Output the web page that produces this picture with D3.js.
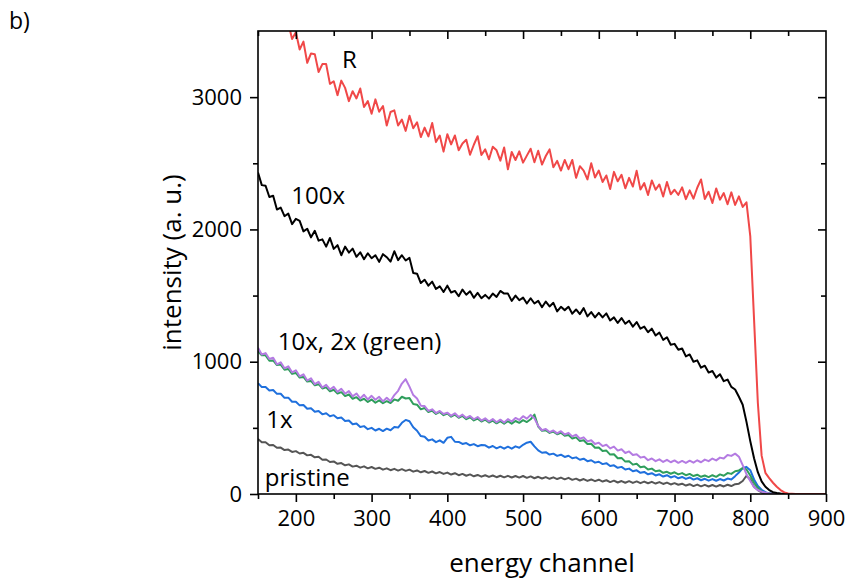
<!DOCTYPE html>
<html>
<head>
<meta charset="utf-8">
<script src="https://cdn.jsdelivr.net/npm/d3@7"></script>
<style>
  body { margin: 0; background: #fff; }
  svg { display: block; }
  text { font-family: "Open Sans", "Liberation Sans", Arial, sans-serif; fill: #000; }
</style>
</head>
<body>
<svg id="chart" width="851" height="583"></svg>
<script>
// Energy channels (shared x grid for every spectrum)
const channels = [
  150,155,160,165,170,175,180,185,190,195,
  200,205,210,215,220,225,230,235,240,245,
  250,255,260,265,270,275,280,285,290,295,
  300,305,310,315,320,325,330,335,340,345,
  350,355,360,365,370,375,380,385,390,395,
  400,405,410,415,420,425,430,435,440,445,
  450,455,460,465,470,475,480,485,490,495,
  500,505,510,515,520,525,530,535,540,545,
  550,555,560,565,570,575,580,585,590,595,
  600,605,610,615,620,625,630,635,640,645,
  650,655,660,665,670,675,680,685,690,695,
  700,705,710,715,720,725,730,735,740,745,
  750,755,760,765,770,775,780,785,790,795,
  800,805,810,815,820,825,830,835,840,845,
  850,860,870,880,890,900
];

// Reference spectrum "R"
const seriesR = [
  null,null,null,null,null,null,null,null,3560,3440,
  3490,3360,3420,3260,3330,3325,3190,3250,3250,3100,
  3120,3015,3125,3070,2970,3045,2990,3065,2925,2970,
  2875,2983,2890,2933,2785,2888,2900,2785,2830,2745,
  2860,2765,2810,2698,2770,2703,2805,2660,2710,2588,
  2720,2643,2710,2598,2650,2678,2565,2640,2705,2563,
  2605,2530,2625,2598,2520,2620,2455,2585,2525,2590,
  2505,2558,2610,2508,2595,2490,2555,2605,2470,2518,
  2445,2525,2455,2525,2390,2478,2445,2378,2500,2393,
  2445,2359,2408,2306,2435,2364,2413,2311,2390,2324,
  2443,2301,2350,2260,2370,2300,2340,2249,2358,2266,
  2300,2261,2318,2229,2295,2233,2315,2378,2230,2285,
  2200,2310,2225,2275,2190,2280,2185,2250,2170,2205,
  1950,1320,690,290,160,120,85,55,30,12,
  4,0,0,0,0,0
];

// 100x
const series100x = [
  2430,2335,2330,2245,2255,2150,2165,2100,2120,2040,
  2080,2065,1985,2005,1940,1990,1915,1925,1870,1935,
  1853,1881,1805,1870,1825,1855,1793,1827,1775,1820,
  1782,1805,1755,1813,1790,1757,1835,1768,1805,1765,
  1785,1670,1665,1595,1620,1575,1605,1550,1570,1527,
  1575,1523,1535,1495,1545,1506,1532,1483,1520,1480,
  1505,1477,1515,1490,1535,1515,1515,1460,1500,1465,
  1485,1440,1480,1440,1460,1412,1455,1418,1445,1380,
  1415,1390,1415,1363,1395,1360,1405,1343,1375,1335,
  1370,1335,1365,1312,1335,1293,1330,1287,1310,1265,
  1300,1250,1265,1223,1250,1198,1220,1165,1185,1128,
  1135,1090,1100,1040,1055,1000,1010,955,970,918,
  930,880,905,853,865,810,790,735,675,545,
  400,270,165,95,55,30,14,7,3,1,
  0,0,0,0,0,0
];

// 10x
const series10x = [
  1105,1055,1065,1020,1030,980,995,950,965,920,
  935,890,905,858,875,830,848,805,825,790,
  810,772,795,758,778,738,760,722,750,715,
  742,712,735,700,728,702,748,780,835,868,
  812,748,722,668,665,628,640,612,628,605,
  615,592,610,582,600,575,590,565,582,555,
  572,548,566,542,562,540,566,548,575,560,
  588,570,598,572,515,482,492,468,480,458,
  475,450,462,435,448,418,428,398,406,378,
  388,362,372,345,358,328,338,310,322,295,
  300,275,282,256,268,248,262,242,258,240,
  254,236,250,235,252,237,255,240,260,248,
  268,254,275,268,295,288,305,282,218,150,
  98,52,30,18,9,4,2,1,0,0,
  0,0,0,0,0,0
];

// 2x
const series2x = [
  1080,1048,1048,1008,1010,975,978,940,945,908,
  915,880,885,850,855,822,830,798,806,776,
  788,760,770,740,752,720,732,706,720,696,
  714,690,708,686,702,688,715,705,735,722,
  725,680,675,640,650,620,630,605,620,596,
  608,585,600,576,590,566,580,556,570,548,
  562,540,555,534,550,532,550,532,552,538,
  558,544,565,600,510,478,482,462,472,452,
  463,440,446,420,428,400,406,378,380,350,
  352,325,328,298,300,270,273,245,248,222,
  228,203,208,185,192,172,178,160,168,153,
  164,148,158,142,152,136,146,130,140,128,
  142,130,148,138,158,152,172,178,196,185,
  140,85,45,20,8,3,1,0,0,0,
  0,0,0,0,0,0
];

// 1x
const series1x = [
  838,808,808,782,786,757,758,727,728,697,
  698,670,673,644,648,622,628,602,610,588,
  596,572,578,552,556,527,533,507,513,490,
  500,480,493,476,494,482,506,502,538,560,
  550,505,478,438,433,405,413,392,406,387,
  425,432,395,394,378,385,368,377,361,370,
  368,350,363,345,358,343,358,343,360,350,
  372,388,395,360,330,312,316,298,305,288,
  297,280,289,270,277,259,267,248,255,237,
  244,226,233,212,217,198,205,185,192,172,
  179,160,167,149,157,140,149,132,142,125,
  135,119,129,114,125,109,119,104,115,101,
  113,100,113,102,117,110,135,162,196,205,
  180,110,60,32,14,5,2,0,0,0,
  0,0,0,0,0,0
];

// pristine
const seriesPristine = [
  416,392,391,369,371,349,351,332,336,318,
  324,306,311,292,296,277,281,259,261,242,
  246,228,234,217,224,207,214,199,209,194,
  204,190,199,184,194,180,190,177,188,175,
  184,169,178,164,174,160,170,156,166,152,
  162,147,157,142,152,138,148,134,144,131,
  142,129,140,127,138,126,137,125,136,124,
  136,122,133,119,130,117,128,115,126,113,
  124,111,122,107,116,102,113,99,110,97,
  108,94,104,90,101,87,98,85,97,84,
  95,82,94,81,92,79,90,76,86,72,
  82,70,78,64,74,60,71,58,69,57,
  68,56,68,57,70,60,74,78,98,138,
  110,55,30,12,4,1,0,0,0,0,
  0,0,0,0,0,0
];

// Axis ticks
const xMajorTicks = [200,300,400,500,600,700,800,900];
const xMinorTicks = [150,250,350,450,550,650,750,850];
const yMajorTicks = [0,1000,2000,3000];
const yMinorTicks = [500,1500,2500];

// Curve labels
const curveLabels = [
  { text: "R", ch: 261, value: 3220 },
  { text: "100x", ch: 194, value: 2195 },
  { text: "10x, 2x (green)", ch: 176, value: 1085 },
  { text: "1x", ch: 161, value: 500 },
  { text: "pristine", ch: 159, value: 60 }
];

const svg = d3.select("#chart");
const margin = { left: 258, right: 25, top: 31, bottom: 89 };
const W = 851, H = 583;
const x = d3.scaleLinear().domain([150, 900]).range([margin.left, W - margin.right]);
const y = d3.scaleLinear().domain([0, 3500]).range([H - margin.bottom, margin.top]);

svg.append("defs").append("clipPath").attr("id", "plotClip")
  .append("rect")
  .attr("x", x(150)).attr("y", y(3500))
  .attr("width", x(900) - x(150)).attr("height", y(0) - y(3500));

const series = [
  { values: seriesPristine, color: "#555555", width: 2.0 },
  { values: series1x, color: "#1f70dd", width: 2.0 },
  { values: series2x, color: "#2f9e5c", width: 2.0 },
  { values: series10x, color: "#b47be2", width: 2.0 },
  { values: series100x, color: "#000000", width: 2.0 },
  { values: seriesR, color: "#f04848", width: 2.0 }
];

const line = d3.line()
  .defined(d => d[1] !== null)
  .x(d => x(d[0]))
  .y(d => y(d[1]));

const plot = svg.append("g").attr("clip-path", "url(#plotClip)");
series.forEach(s => {
  plot.append("path")
    .datum(channels.map((c, i) => [c, s.values[i]]))
    .attr("fill", "none")
    .attr("stroke", s.color)
    .attr("stroke-width", s.width)
    .attr("stroke-linejoin", "round")
    .attr("d", line);
});

// Axes: outward ticks bottom/left, inward mirrored ticks top/right
const tickFont = 22;
function styleAxis(g) {
  g.select(".domain").remove();
  g.selectAll(".tick line").attr("stroke", "#000").attr("stroke-width", 1.6);
  g.selectAll("text").attr("font-size", tickFont).attr("fill", "#000")
    .style("font-family", '"Open Sans", "Liberation Sans", Arial, sans-serif');
}

svg.append("g").attr("transform", `translate(0,${y(0)})`)
  .call(d3.axisBottom(x).tickValues(xMinorTicks).tickSize(5).tickFormat(""))
  .call(styleAxis);
svg.append("g").attr("transform", `translate(0,${y(0)})`)
  .call(d3.axisBottom(x).tickValues(xMajorTicks).tickSize(8).tickPadding(8).tickFormat(d3.format("d")))
  .call(styleAxis);

svg.append("g").attr("transform", `translate(${x(150)},0)`)
  .call(d3.axisLeft(y).tickValues(yMinorTicks).tickSize(5).tickFormat(""))
  .call(styleAxis);
svg.append("g").attr("transform", `translate(${x(150)},0)`)
  .call(d3.axisLeft(y).tickValues(yMajorTicks).tickSize(8).tickPadding(8).tickFormat(d3.format("d")))
  .call(styleAxis);

svg.append("g").attr("transform", `translate(0,${y(3500)})`)
  .call(d3.axisTop(x).tickValues(xMinorTicks).tickSize(-5).tickFormat(""))
  .call(styleAxis);
svg.append("g").attr("transform", `translate(0,${y(3500)})`)
  .call(d3.axisTop(x).tickValues(xMajorTicks.filter(v => v < 900)).tickSize(-8).tickFormat(""))
  .call(styleAxis);

svg.append("g").attr("transform", `translate(${x(900)},0)`)
  .call(d3.axisRight(y).tickValues(yMinorTicks).tickSize(-5).tickFormat(""))
  .call(styleAxis);
svg.append("g").attr("transform", `translate(${x(900)},0)`)
  .call(d3.axisRight(y).tickValues(yMajorTicks.filter(v => v > 0)).tickSize(-8).tickFormat(""))
  .call(styleAxis);

// Plot frame
svg.append("rect")
  .attr("x", x(150)).attr("y", y(3500))
  .attr("width", x(900) - x(150)).attr("height", y(0) - y(3500))
  .attr("fill", "none").attr("stroke", "#000").attr("stroke-width", 1.6);

// Curve labels
svg.append("g").selectAll("text").data(curveLabels).join("text")
  .attr("x", d => x(d.ch))
  .attr("y", d => y(d.value))
  .attr("font-size", 24)
  .text(d => d.text);

// Axis titles
svg.append("text")
  .attr("x", (x(150) + x(900)) / 2)
  .attr("y", 572)
  .attr("text-anchor", "middle")
  .attr("font-size", 26)
  .text("energy channel");

svg.append("text")
  .attr("transform", `translate(181,${(y(0) + y(3500)) / 2}) rotate(-90)`)
  .attr("text-anchor", "middle")
  .attr("font-size", 26)
  .text("intensity (a. u.)");

// Panel letter
svg.append("text")
  .attr("x", 9).attr("y", 29)
  .attr("font-size", 23)
  .text("b)");
</script>
</body>
</html>
